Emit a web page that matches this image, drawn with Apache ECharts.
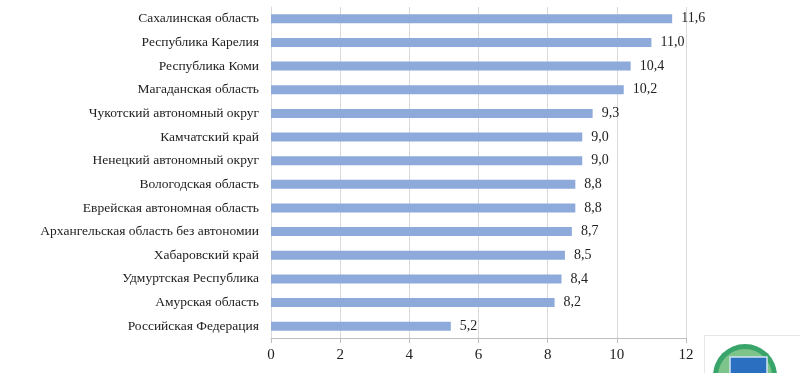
<!DOCTYPE html>
<html><head><meta charset="utf-8">
<script src="https://cdn.jsdelivr.net/npm/echarts@6/dist/echarts.min.js"></script>
<style>html,body{margin:0;padding:0;background:#fff}#c{width:800px;height:373px}</style>
</head><body><div id="c"></div>
<script>
const categories = [
  "Сахалинская область",
  "Республика Карелия",
  "Республика Коми",
  "Магаданская область",
  "Чукотский автономный округ",
  "Камчатский край",
  "Ненецкий автономный округ",
  "Вологодская область",
  "Еврейская автономная область",
  "Архангельская область без автономии",
  "Хабаровский край",
  "Удмуртская Республика",
  "Амурская область",
  "Российская Федерация"
];
const values = [11.6, 11.0, 10.4, 10.2, 9.3, 9.0, 9.0, 8.8, 8.8, 8.7, 8.5, 8.4, 8.2, 5.2];
const xTicks = [0, 2, 4, 6, 8, 10, 12];

const chart = echarts.init(document.getElementById('c'), null, {renderer: 'canvas'});
const font = '"Liberation Serif", "Times New Roman", serif';
chart.setOption({
  animation: false,
  textStyle: {fontFamily: font},
  grid: {left: 271, right: 114, top: 7, bottom: 35, containLabel: false},
  xAxis: {
    type: 'value', min: xTicks[0], max: xTicks[xTicks.length - 1], interval: 2,
    axisLine: {show: true, lineStyle: {color: '#bfbfbf', width: 1}},
    axisTick: {show: true, length: 5, lineStyle: {color: '#bfbfbf'}},
    axisLabel: {color: '#222', fontSize: 15, fontFamily: font, margin: 10},
    splitLine: {show: true, lineStyle: {color: '#d9d9d9', width: 1}}
  },
  yAxis: {
    type: 'category', data: categories.slice().reverse(), inverse: false,
    axisLine: {show: true, lineStyle: {color: '#d9d9d9'}},
    axisTick: {show: false},
    axisLabel: {color: '#222', fontSize: 13.5, fontFamily: font, margin: 12}
  },
  series: [{
    type: 'bar',
    data: values.slice().reverse(),
    barWidth: 9,
    itemStyle: {color: '#8eaadb'},
    label: {
      show: true, position: 'right', distance: 9,
      color: '#222', fontSize: 14, fontFamily: font,
      formatter: p => p.value.toFixed(1).replace('.', ',')
    }
  }],
  graphic: [
    {type: 'rect', shape: {x: 704.5, y: 335.5, width: 100, height: 50}, style: {fill: '#fff', stroke: '#e6e6e6', lineWidth: 1}},
    {type: 'circle', shape: {cx: 745, cy: 376, r: 32}, style: {fill: '#3aa56a'}},
    {type: 'circle', shape: {cx: 745, cy: 376, r: 27}, style: {fill: '#7cc48a'}},
    {type: 'rect', shape: {x: 730, y: 357, width: 37, height: 20}, style: {fill: '#2a6fc0', stroke: '#cfe3f5', lineWidth: 1.5}}
  ]
});
</script></body></html>
